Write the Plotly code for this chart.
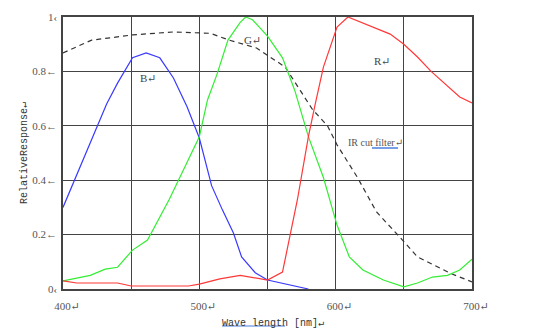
import plotly.graph_objects as go

# ---- data ----
blue_x = [400, 425, 432, 440, 451, 461, 471, 481, 491, 500, 509, 517, 525, 531, 541, 550, 580]
blue_y = [0.30, 0.60, 0.68, 0.757, 0.85, 0.868, 0.85, 0.776, 0.67, 0.555, 0.38, 0.29, 0.206, 0.118, 0.06, 0.033, 0.0]

green_x = [400, 420, 431, 440, 451, 462, 478, 500, 506, 513, 521, 530, 534, 539, 550, 561, 570, 580,
           591, 601, 610, 620, 635, 650, 660, 671, 682, 691, 700]
green_y = [0.03, 0.05, 0.073, 0.08, 0.143, 0.18, 0.33, 0.56, 0.695, 0.79, 0.915, 0.98, 1.0, 0.99, 0.93,
           0.85, 0.73, 0.56, 0.41, 0.235, 0.118, 0.07, 0.033, 0.008, 0.022, 0.044, 0.05, 0.07, 0.11]

red_x = [400, 410, 440, 450, 492, 500, 515, 530, 550, 561, 572, 580, 585, 591, 601, 609, 640, 650, 660,
         670, 691, 700]
red_y = [0.03, 0.022, 0.022, 0.011, 0.011, 0.018, 0.037, 0.05, 0.033, 0.062, 0.33, 0.56, 0.68, 0.816,
         0.963, 1.0, 0.937, 0.9, 0.853, 0.8, 0.706, 0.684]

ir_x = [400, 421, 451, 481, 508, 522, 542, 563, 574, 583, 594, 601, 616, 630, 649, 660, 684, 700]
ir_y = [0.868, 0.915, 0.934, 0.945, 0.94, 0.915, 0.886, 0.816, 0.73, 0.66, 0.6, 0.53, 0.41, 0.283,
        0.18, 0.118, 0.058, 0.026]

x_tickvals = [400, 450, 500, 550, 600, 650, 700]
x_ticktext = ["400↵", "", "500↵", "", "600↵", "", "700↵"]
y_tickvals = [0, 0.2, 0.4, 0.6, 0.8, 1.0]
y_ticktext = ["0‹", "0.2←", "0.4←", "0.6←", "0.8←", "1‹"]

curve_labels = [("B↵", 463, 0.775), ("G↵", 539, 0.915), ("R↵", 634, 0.84)]
ir_label = ("IR cut filter↵", 607.5, 0.54)

x_title = "Wave length [nm]↵"
y_title = "RelativeResponse↵"

W, H = 554, 331
L, R, T, B = 63, 82, 17, 42

fig = go.Figure()
fig.add_trace(go.Scatter(x=ir_x, y=ir_y, mode="lines",
                         line=dict(color="#333333", width=1.2, dash="5px,4px")))
fig.add_trace(go.Scatter(x=blue_x, y=blue_y, mode="lines", line=dict(color="#3a3aff", width=1.2)))
fig.add_trace(go.Scatter(x=green_x, y=green_y, mode="lines", line=dict(color="#33ee33", width=1.2)))
fig.add_trace(go.Scatter(x=red_x, y=red_y, mode="lines", line=dict(color="#ff3838", width=1.2)))

serif = "Liberation Serif, DejaVu Serif, serif"
mono = "Liberation Mono, DejaVu Sans Mono, monospace"

for txt, xx, yy in curve_labels:
    fig.add_annotation(x=xx, y=yy, text=txt, showarrow=False, xanchor="center", yanchor="middle",
                       font=dict(family=serif, size=11, color="#444444"))
fig.add_annotation(x=ir_label[1], y=ir_label[2], text=ir_label[0], showarrow=False,
                   xanchor="left", yanchor="middle", font=dict(family=serif, size=10, color="#555555"))

# axis titles
fig.add_annotation(xref="paper", yref="paper", x=0.5, y=0, yshift=-34, xshift=5,
                   text=x_title, showarrow=False, xanchor="center", yanchor="middle",
                   font=dict(family=mono, size=10, color="#333333"))
fig.add_annotation(xref="paper", yref="paper", x=0, y=0.5, xshift=-39,
                   text=y_title, showarrow=False, textangle=-90, xanchor="center", yanchor="middle",
                   font=dict(family=mono, size=10, color="#333333"))

# spell-check style underlines (decoration)
def px_to_paper_x(px):
    return (px - L) / (W - L - R)

def px_to_paper_y(py):
    return (H - B - py) / (H - T - B)

fig.add_shape(type="line", xref="paper", yref="paper",
              x0=px_to_paper_x(222), x1=px_to_paper_x(285),
              y0=px_to_paper_y(326), y1=px_to_paper_y(326),
              line=dict(color="#4a7fe0", width=1.2))
fig.add_shape(type="line", xref="paper", yref="paper",
              x0=px_to_paper_x(372), x1=px_to_paper_x(398),
              y0=px_to_paper_y(148), y1=px_to_paper_y(148),
              line=dict(color="#4a7fe0", width=1.5))

grid_col = "#444444"
fig.update_xaxes(range=[400, 700], tickvals=x_tickvals, ticktext=x_ticktext,
                 showgrid=True, gridcolor=grid_col, gridwidth=1.3,
                 showline=True, linecolor=grid_col, linewidth=1.5, mirror=True,
                 zeroline=False, ticks="", ticklabelstandoff=6, ticklabelshift=4,
                 tickfont=dict(family=serif, size=11, color="#555555"))
fig.update_yaxes(range=[0, 1], tickvals=y_tickvals, ticktext=y_ticktext,
                 showgrid=True, gridcolor=grid_col, gridwidth=1.3,
                 showline=True, linecolor=grid_col, linewidth=1.5, mirror=True,
                 zeroline=False, ticks="", ticklabelstandoff=2,
                 tickfont=dict(family=serif, size=11, color="#555555"))

fig.update_layout(width=W, height=H, margin=dict(l=L, r=R, t=T, b=B, pad=0),
                  plot_bgcolor="white", paper_bgcolor="white", showlegend=False)

fig.write_html("out.html")
